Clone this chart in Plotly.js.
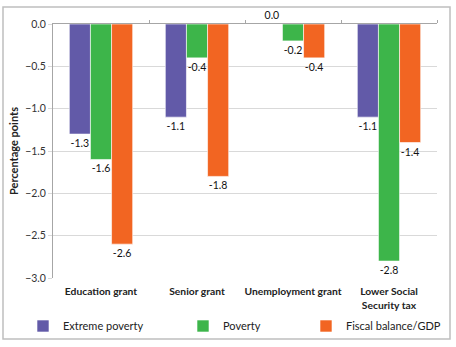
<!DOCTYPE html>
<html>
<head>
<meta charset="utf-8">
<script src="https://cdn.plot.ly/plotly-3.0.1.min.js"></script>
<style>
html,body{margin:0;padding:0;background:#fff;}
#chart{width:456px;height:347px;}
</style>
</head>
<body>
<div id="chart"></div>
<script>
var categories = ["Education grant", "Senior grant", "Unemployment grant", "Lower Social<br>Security tax"];
var seriesNames = ["Extreme poverty", "Poverty", "Fiscal balance/GDP"];
var extremePoverty = [-1.3, -1.1, 0.0, -1.1];
var poverty = [-1.6, -0.4, -0.2, -2.8];
var fiscalBalance = [-2.6, -1.8, -0.4, -1.4];
var colors = ["#625AA8", "#3DB54A", "#F26522"];
var yTicks = [0, -0.5, -1.0, -1.5, -2.0, -2.5, -3.0];

var FONT = "Lato, 'Open Sans', sans-serif";
var allSeries = [extremePoverty, poverty, fiscalBalance];
var legendIds = ["legend", "legend2", "legend3"];

var data = allSeries.map(function(vals, i){
  return {
    type: "bar",
    name: seriesNames[i],
    x: categories,
    y: vals,
    marker: {color: colors[i], line: {color: "#ffffff", width: 0.6}},
    text: vals.map(function(v){ return v.toFixed(1); }),
    textposition: "outside",
    textfont: {family: FONT, size: 10.5, color: "#111"},
    cliponaxis: false,
    legend: legendIds[i],
    hoverinfo: "skip"
  };
});

// tick marks along the zero line between categories
data.push({
  type: "scatter", x: [-0.5, 3.5], y: [0, 0], xaxis: "x2", yaxis: "y",
  mode: "lines", line: {color: "rgba(0,0,0,0)"}, showlegend: false, hoverinfo: "skip"
});

var W = 456, H = 347, L = 53, R = 19, T = 24, B = 69;
var pw = W - L - R, ph = H - T - B;
function px(x){ return (x - L) / pw; }
function py(y){ return (H - B - y) / ph; }

function leg(xpix){
  return {
    x: px(xpix), xanchor: "left", y: py(326), yanchor: "middle",
    orientation: "h", bgcolor: "rgba(0,0,0,0)",
    font: {family: FONT, size: 11, color: "#222"},
    itemwidth: 30
  };
}

var layout = {
  width: W, height: H,
  margin: {l: L, r: R, t: T, b: B, autoexpand: false},
  paper_bgcolor: "#ffffff", plot_bgcolor: "#ffffff",
  barmode: "group", bargap: 0.34, bargroupgap: 0.0,
  font: {family: FONT, size: 11, color: "#222"},
  showlegend: true,
  xaxis: {
    type: "category", range: [-0.5, 3.5],
    showgrid: false, showline: false, zeroline: false, ticks: "",
    ticklabelstandoff: 6,
    tickfont: {family: FONT, size: 10.3, color: "#222", weight: "bold"},
    automargin: false, fixedrange: true
  },
  xaxis2: {
    overlaying: "x", anchor: "y", side: "top", range: [-0.5, 3.5],
    tickvals: [0.5, 1.5, 2.5, 3.5], showticklabels: false,
    ticks: "outside", ticklen: 3, tickcolor: "#a6a6a6",
    showline: true, linecolor: "#a6a6a6", linewidth: 1,
    showgrid: false, zeroline: false, automargin: false
  },
  yaxis: {
    range: [-3.0, 0.0], tickvals: yTicks, tickformat: ".1f",
    showgrid: true, gridcolor: "#d9d9d9", gridwidth: 1,
    zeroline: false, showline: true, linecolor: "#a6a6a6", linewidth: 1,
    ticks: "outside", ticklen: 4, tickcolor: "#d9d9d9",
    tickfont: {family: FONT, size: 10.5, color: "#333"},
    title: {text: "Percentage points", font: {family: FONT, size: 11, color: "#222", weight: "bold"}, standoff: 4},
    automargin: false, fixedrange: true
  },
  legend: leg(23),
  legend2: leg(183),
  legend3: leg(306),
  shapes: [{
    type: "rect", xref: "paper", yref: "paper",
    x0: px(3), x1: px(450), y0: py(339), y1: py(7),
    line: {color: "#bfbfbf", width: 1.5}, fillcolor: "rgba(0,0,0,0)", layer: "below"
  }]
};

Plotly.newPlot("chart", data, layout, {displayModeBar: false, staticPlot: true});
</script>
</body>
</html>
